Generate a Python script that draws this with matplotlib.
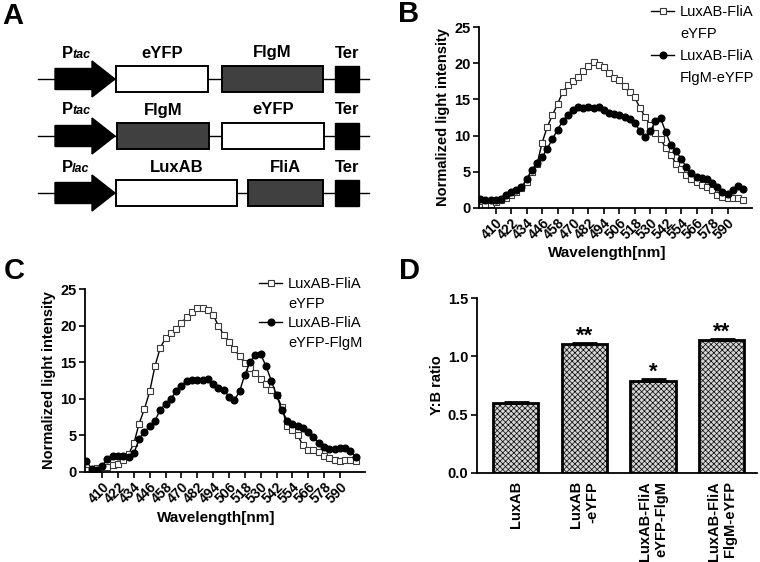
import matplotlib
matplotlib.use('Agg')
import matplotlib.pyplot as plt
from matplotlib.lines import Line2D
from matplotlib.patches import Rectangle, FancyArrow

plt.rcParams['font.family'] = ['Liberation Sans', 'DejaVu Sans']
plt.rcParams['hatch.linewidth'] = 0.5

# emission spectra, 398-602 nm every 4 nm
WAVELENGTH = list(range(398, 603, 4))
WL_TICKS = list(range(410, 591, 12))

B_EYFP = [0.1, 0.3, 0.5, 0.8, 1.0, 1.3, 1.7, 2.2, 2.7, 3.6,
          5.0, 6.0, 9.0, 11.2, 12.8, 14.4, 16.0, 17.0, 17.6, 18.1,
          18.9, 19.7, 20.2, 19.8, 19.5, 18.7, 18.0, 17.7, 16.8, 16.0,
          15.3, 13.8, 12.6, 11.4, 10.4, 9.5, 8.3, 7.3, 6.1, 5.4,
          4.6, 4.0, 3.5, 3.2, 2.9, 2.4, 1.8, 1.5, 1.3, 1.3,
          1.3, 1.0]
B_FLGM_EYFP = [1.2, 1.0, 1.0, 1.0, 1.2, 1.8, 2.2, 2.4, 2.8, 4.0,
               5.2, 6.2, 7.0, 8.2, 9.5, 10.8, 12.0, 12.9, 13.6, 14.0,
               13.8, 13.9, 13.8, 14.0, 13.5, 13.1, 13.0, 12.8, 12.6, 12.3,
               11.8, 10.6, 9.8, 10.6, 12.0, 12.4, 10.5, 8.7, 7.8, 6.8,
               5.6, 4.8, 4.2, 4.1, 4.0, 3.4, 2.8, 2.2, 1.9, 2.4,
               3.0, 2.6]
C_EYFP = [0.2, 0.3, 0.5, 0.6, 0.7, 0.9, 1.1, 1.6, 2.4, 3.9,
          6.6, 8.6, 11.0, 14.5, 17.0, 18.3, 19.0, 19.6, 20.4, 21.2,
          21.9, 22.4, 22.5, 22.2, 21.5, 20.0, 18.8, 17.8, 16.8, 15.8,
          14.9, 14.2, 13.5, 12.7, 12.0, 11.2, 10.5, 8.9, 6.2, 5.7,
          5.0, 3.6, 3.0, 3.0, 2.7, 2.2, 1.9, 1.6, 1.4, 1.6,
          1.6, 1.4]
C_EYFP_FLGM = [1.5, 0.4, 0.3, 0.8, 1.8, 2.2, 2.1, 2.1, 2.0, 2.5,
               4.5, 5.5, 6.2, 7.0, 8.5, 9.3, 10.0, 11.0, 11.8, 12.5,
               12.6, 12.6, 12.6, 12.7, 12.0, 11.5, 11.2, 10.3, 9.8, 11.0,
               13.3, 15.0, 16.0, 16.1, 14.5, 12.5, 10.5, 8.5, 7.0, 6.5,
               6.3, 6.0, 5.4, 4.7, 4.0, 3.4, 3.1, 3.1, 3.3, 3.3,
               2.9, 2.0]

# Y:B ratio
D_LABELS = ['LuxAB', 'LuxAB\n-eYFP', 'LuxAB-FliA\neYFP-FlgM', 'LuxAB-FliA\nFlgM-eYFP']
D_RATIO = [0.597, 1.107, 0.789, 1.141]
D_ERR = [0.015, 0.006, 0.014, 0.012]
D_STARS = ['', '**', '*', '**']

# constructs: (promoter, [(gene, start, end, dark)])
CONSTRUCTS = [
  ('tac', [('eYFP', 116, 208, False), ('FlgM', 222, 323, True)]),
  ('tac', [('FlgM', 117, 209, True), ('eYFP', 222, 324, False)]),
  ('lac', [('LuxAB', 116, 237, False), ('FliA', 248, 323, True)]),
]
ROW_Y = [79, 136, 193]

DARK = '#404040'


def spectrum(ax, open_vals, filled_vals, second_label, anchor, spacing):
  h1, = ax.plot(WAVELENGTH, open_vals, color='black', lw=1, marker='s', ms=4.8,
                mfc='white', mec='#3a3a3a', mew=0.8)
  h2, = ax.plot(WAVELENGTH, filled_vals, color='black', lw=1, marker='o', ms=4.8,
                mfc='black', mec='black')
  ax.set_xlim(397, 609)
  ax.set_ylim(0, 25)
  ax.set_yticks([0, 5, 10, 15, 20, 25])
  ax.set_xticks(WL_TICKS)
  ax.set_xticklabels([str(t) for t in WL_TICKS], rotation=45, ha='right',
                     rotation_mode='anchor', fontsize=10, fontweight='bold')
  for lab in ax.get_yticklabels():
    lab.set_fontweight('bold')
    lab.set_fontsize(10.5)
  for side in ('top', 'right'):
    ax.spines[side].set_visible(False)
  for side in ('left', 'bottom'):
    ax.spines[side].set_linewidth(1.3)
  ax.tick_params(direction='out', length=4, width=1.2, pad=2)
  ax.set_ylabel('Normalized light intensity', fontsize=10.5, fontweight='bold', labelpad=3)
  ax.set_xlabel('Wavelength[nm]', fontsize=11, fontweight='bold')
  ax.xaxis.set_label_coords(0.47, -0.215)
  blank = Line2D([], [], linestyle='none')
  ax.figure.legend([h1, blank, h2, blank],
                   ['LuxAB-FliA', 'eYFP', 'LuxAB-FliA', second_label],
                   loc='upper left', bbox_to_anchor=anchor, frameon=False,
                   fontsize=10.5, handlelength=1.6, handletextpad=0.4,
                   labelspacing=spacing, borderpad=0, borderaxespad=0)


fig = plt.figure(figsize=(7.6, 5.62), dpi=100)

# panel A: gene constructs
ax_a = fig.add_axes([0, 1 - 230 / 562, 380 / 760, 230 / 562])
ax_a.set_xlim(0, 380)
ax_a.set_ylim(230, 0)
ax_a.axis('off')
for (prom, genes), y in zip(CONSTRUCTS, ROW_Y):
  ax_a.plot([38, 369], [y, y], color='black', lw=1, zorder=1)
  ax_a.add_patch(FancyArrow(55, y, 60, 0, width=21, head_width=36, head_length=23,
                            length_includes_head=True, color='black', zorder=2))
  ax_a.text(61.5, y - 26, 'P', fontsize=12, fontweight='bold', ha='left', va='center')
  ax_a.text(72, y - 24.5, prom, fontsize=9, fontweight='bold', style='italic',
            ha='left', va='center')
  for name, x0, x1, dark in genes:
    ax_a.add_patch(Rectangle((x0, y - 13), x1 - x0, 26,
                             facecolor=DARK if dark else 'white',
                             edgecolor='black', lw=1.4, zorder=2))
    ax_a.text((x0 + x1) / 2, y - 26, name, fontsize=12, fontweight='bold',
              ha='center', va='center')
  ax_a.add_patch(Rectangle((335, y - 13), 24, 26, facecolor='black',
                           edgecolor='black', zorder=2))
  ax_a.text(347, y - 26, 'Ter', fontsize=12, fontweight='bold', ha='center', va='center')

# panel B
ax_b = fig.add_axes([479 / 760, 1 - 207.7 / 562, 273 / 760, 180.4 / 562])
spectrum(ax_b, B_EYFP, B_FLGM_EYFP, 'FlgM-eYFP', (651 / 760, 1 - 5 / 562), 0.55)

# panel C
ax_c = fig.add_axes([85 / 760, 1 - 471.7 / 562, 280 / 760, 182.4 / 562])
spectrum(ax_c, C_EYFP, C_EYFP_FLGM, 'eYFP-FlgM', (259 / 760, 1 - 277 / 562), 0.38)

# panel D
ax_d = fig.add_axes([476.7 / 760, 1 - 472.7 / 562, 280 / 760, 174.4 / 562])
xpos = list(range(len(D_RATIO)))
ax_d.bar(xpos, D_RATIO, width=0.66, color='#d4d4d4', edgecolor='black',
         linewidth=2, hatch='xxxxxx', zorder=2)
ax_d.errorbar(xpos, D_RATIO, yerr=[[0] * len(D_ERR), D_ERR], fmt='none',
              ecolor='black', elinewidth=1.5, capsize=9, capthick=2, zorder=3)
for i, star in enumerate(D_STARS):
  if star:
    ax_d.text(i, D_RATIO[i] + D_ERR[i] + 0.01, star, ha='center', va='baseline',
              fontsize=16, fontweight='bold')
ax_d.set_xlim(-0.57, 3.51)
ax_d.set_ylim(0, 1.5)
ax_d.set_yticks([0, 0.5, 1.0, 1.5])
ax_d.set_yticklabels(['0.0', '0.5', '1.0', '1.5'], fontsize=10.5, fontweight='bold')
ax_d.set_xticks(xpos)
ax_d.set_xticklabels(D_LABELS, rotation=90, fontsize=10.5, fontweight='bold',
                     multialignment='right')
ax_d.tick_params(axis='x', length=0, pad=6)
ax_d.tick_params(axis='y', direction='out', length=4, width=1.2, pad=2)
for side in ('top', 'right'):
  ax_d.spines[side].set_visible(False)
for side in ('left', 'bottom'):
  ax_d.spines[side].set_linewidth(1.3)
ax_d.set_ylabel('Y:B ratio', fontsize=10.5, fontweight='bold', labelpad=3)

# panel letters
for letter, x, y in [('A', 2, 2.5), ('B', 398, 0), ('C', 4, 257), ('D', 399, 257)]:
  fig.text(x / 760, 1 - y / 562, letter, fontsize=21, fontweight='bold',
           ha='left', va='top')

fig.savefig('out.png', dpi=100)
